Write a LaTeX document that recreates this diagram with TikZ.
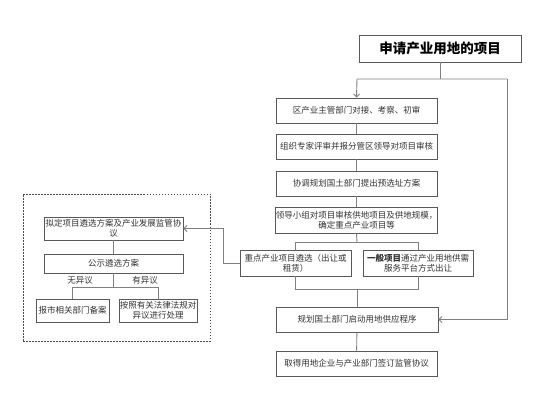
\documentclass[tikz,border=0pt]{standalone}
\usepackage{fontspec}
\setmainfont{Noto Sans CJK SC}
\usetikzlibrary{arrows.meta}
\tikzset{
  box/.style={draw=black!65, line width=0.9pt, fill=white, align=center, inner sep=0pt, font=\fontsize{8.5}{10}\selectfont, text=black!80},
  conn/.style={draw=black!50, line width=0.9pt},
  arr/.style={conn, -{Straight Barb[length=3pt,width=6pt]}},
  lbl/.style={font=\fontsize{8.5}{10}\selectfont, text=black!80, inner sep=1pt},
  region/.style={draw=black!70, dashed, dash pattern=on 1.5pt off 1.5pt, line width=0.7pt}
}
\begin{document}
\begin{tikzpicture}[x=1pt,y=-1pt]
\useasboundingbox (0,0) rectangle (552,412);
% main column
\node[box, minimum width=162pt, minimum height=27pt, font=\fontsize{13.5}{15}\selectfont\bfseries, text=black] (title) at (440,48.5) {申请产业用地的项目};
\node[box, minimum width=161pt, minimum height=25pt] (b1) at (356.5,110.5) {区产业主管部门对接、考察、初审};
\node[box, minimum width=161pt, minimum height=25pt] (b2) at (356.5,146.5) {组织专家评审并报分管区领导对项目审核};
\node[box, minimum width=161pt, minimum height=25pt] (b3) at (356.5,183.5) {协调规划国土部门提出预选址方案};
\node[box, minimum width=161pt, minimum height=26pt] (b4) at (356.5,220) {领导小组对项目审核供地项目及供地规模，\\确定重点产业项目等};
\node[box, minimum width=111pt, minimum height=26pt] (bl) at (295.5,263) {重点产业项目遴选（出让或\\租赁）};
\node[box, minimum width=110pt, minimum height=26pt] (br) at (418,263) {{\bfseries 一般项目}通过产业用地供需\\服务平台方式出让};
\node[box, minimum width=162pt, minimum height=25pt] (b5) at (357,319.5) {规划国土部门启动用地供应程序};
\node[box, minimum width=161pt, minimum height=25pt] (b6) at (356.5,363.5) {取得用地企业与产业部门签订监管协议};
% left region
\node[region, minimum width=187pt, minimum height=147pt, inner sep=0pt] (reg) at (116.5,267.5) {};
\node[box, minimum width=139pt, minimum height=23pt] (L1) at (113.5,228.5) {拟定项目遴选方案及产业发展监管协\\议};
\node[box, minimum width=139pt, minimum height=19pt] (L2) at (113.5,263.5) {公示遴选方案};
\node[box, minimum width=73pt, minimum height=23pt] (L3) at (72.5,310.5) {报市相关部门备案};
\node[box, minimum width=78pt, minimum height=23pt] (L4) at (158,310.5) {按照有关法律法规对\\异议进行处理};
% junction coordinates
\coordinate (t1) at (440,79);
\coordinate (tl) at (357,79);
\coordinate (tr) at (507,79);
\coordinate (trb) at (507,319.5);
\coordinate (j1) at (357,242);
\coordinate (j1l) at (295.5,242);
\coordinate (j1r) at (418,242);
\coordinate (j2) at (357,289);
\coordinate (j2l) at (295.5,289);
\coordinate (j2r) at (418,289);
\coordinate (k1) at (223,263);
\coordinate (k2) at (223,228.5);
\coordinate (m1) at (113.5,287);
\coordinate (m1l) at (72.5,287);
\coordinate (m1r) at (158,287);
% connectors
\draw[conn] (title.south) -- (t1);
\draw[arr] (tl) -- (tr) (tl) -- (b1.north);
\draw[arr] (tr) -- (trb) -- (b5.east);
\draw[conn] (b1) -- (b2);
\draw[conn] (b2) -- (b3);
\draw[conn] (b3) -- (b4);
\draw[conn] (b4.south) -- (j1);
\draw[conn] (j1l) -- (j1r);
\draw[conn] (j1l) -- (bl.north);
\draw[conn] (j1r) -- (br.north);
\draw[conn] (bl.south) -- (j2l) -- (j2r) -- (br.south);
\draw[conn] (j2) -- (b5.north);
\draw[conn] (b5) -- (b6);
\draw[arr] (bl.west) -- (k1) -- (k2) -- (L1.east);
\draw[conn] (L1) -- (L2);
\draw[conn] (L2.south) -- (m1);
\draw[conn] (m1l) -- (m1r);
\draw[conn] (m1l) -- (L3.north);
\draw[conn] (m1r) -- (L4.north);
\node[lbl] (nolbl) at (80,280) {无异议};
\node[lbl] (yeslbl) at (145,280) {有异议};
\end{tikzpicture}
\end{document}
